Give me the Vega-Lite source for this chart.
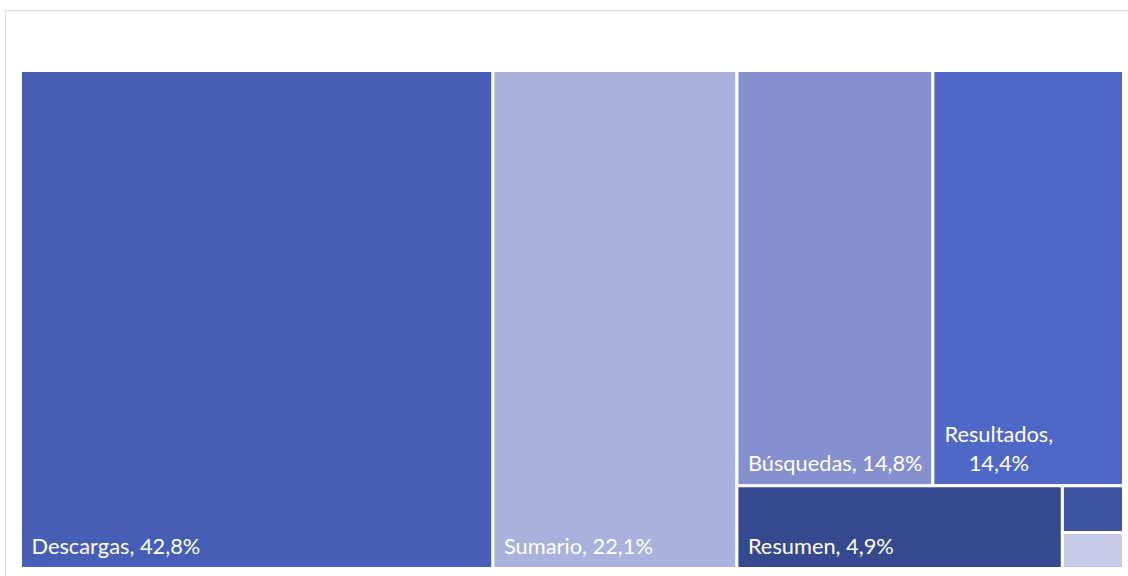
{
  "$schema": "https://vega.github.io/schema/vega-lite/v6.json",
  "width": 1123,
  "height": 566,
  "autosize": {"type": "none"},
  "padding": {"left": 5, "top": 10, "right": 0, "bottom": 0},
  "background": "#ffffff",
  "config": {"view": {"stroke": "#d9d9d9", "strokeWidth": 1}},
  "data": {
    "values": [
      {"name": "Descargas", "value": 42.8, "block": 1, "band": "all", "cell": "Descargas"},
      {"name": "Sumario", "value": 22.1, "block": 2, "band": "all", "cell": "Sumario"},
      {"name": "Búsquedas", "value": 14.8, "block": 3, "band": "top", "cell": "Búsquedas"},
      {"name": "Resultados", "value": 14.4, "block": 3, "band": "top", "cell": "Resultados"},
      {"name": "Resumen", "value": 4.9, "block": 3, "band": "bottom", "cell": "Resumen"},
      {"name": "Otros A", "value": 0.52, "block": 3, "band": "bottom", "cell": "Otros"},
      {"name": "Otros B", "value": 0.4, "block": 3, "band": "bottom", "cell": "Otros"}
    ]
  },
  "transform": [
    {"joinaggregate": [{"op": "sum", "field": "value", "as": "blockSum"}], "groupby": ["block"]},
    {"window": [{"op": "sum", "field": "value", "as": "blockEnd"}], "sort": [{"field": "block"}], "frame": [null, 0]},
    {"joinaggregate": [{"op": "sum", "field": "value", "as": "bandSum"}], "groupby": ["block", "band"]},
    {"window": [{"op": "sum", "field": "value", "as": "bandEnd"}], "groupby": ["block"], "sort": [{"field": "band"}], "frame": [null, 0]},
    {"joinaggregate": [{"op": "sum", "field": "value", "as": "cellSum"}], "groupby": ["block", "band", "cell"]},
    {"window": [{"op": "sum", "field": "value", "as": "cellEnd"}], "groupby": ["block", "band"], "sort": [{"field": "cellSum", "order": "descending"}], "frame": [null, 0]},
    {"window": [{"op": "sum", "field": "value", "as": "itemEnd"}], "groupby": ["block", "band", "cell"], "sort": [{"field": "value", "order": "descending"}], "frame": [null, 0]},
    {"joinaggregate": [{"op": "sum", "field": "value", "as": "total"}]},
    {"calculate": "(datum.blockEnd - datum.blockSum) * 100 / datum.total", "as": "bx0"},
    {"calculate": "datum.blockSum * 100 / datum.total", "as": "bw"},
    {"calculate": "datum.bandEnd / datum.blockSum", "as": "by1"},
    {"calculate": "(datum.bandEnd - datum.bandSum) / datum.blockSum", "as": "by0"},
    {"calculate": "datum.bx0 + (datum.cellEnd - datum.cellSum) / datum.bandSum * datum.bw", "as": "x0"},
    {"calculate": "datum.bx0 + datum.cellEnd / datum.bandSum * datum.bw", "as": "x1"},
    {"calculate": "datum.by1 - (datum.itemEnd - datum.value) / datum.cellSum * (datum.by1 - datum.by0)", "as": "y1"},
    {"calculate": "datum.by1 - datum.itemEnd / datum.cellSum * (datum.by1 - datum.by0)", "as": "y0"},
    {"calculate": "replace(format(datum.value, '.1f'), '.', ',') + '%'", "as": "pct"},
    {"calculate": "length(datum.name + ', ' + datum.pct) / (datum.x1 - datum.x0) > 0.94", "as": "wrap"}
  ],
  "encoding": {
    "x": {"field": "x0", "type": "quantitative", "scale": {"domain": [-1.4053, 100.408], "nice": false, "zero": false}, "axis": null},
    "y": {"field": "y1", "type": "quantitative", "scale": {"domain": [-0.01506, 1.12149], "nice": false, "zero": false}, "axis": null}
  },
  "layer": [
    {
      "mark": {"type": "rect", "stroke": "#ffffff", "strokeWidth": 3},
      "encoding": {
        "x2": {"field": "x1"},
        "y2": {"field": "y0"},
        "color": {
          "field": "name",
          "type": "nominal",
          "legend": null,
          "scale": {
            "domain": ["Descargas", "Sumario", "Búsquedas", "Resultados", "Resumen", "Otros A", "Otros B"],
            "range": ["#465EB6", "#AAB1DC", "#8690D0", "#4F68C8", "#36488E", "#3F53A3", "#C5CAE8"]
          }
        },
        "tooltip": [{"field": "name", "type": "nominal"}, {"field": "pct", "type": "nominal"}]
      }
    },
    {
      "transform": [{"filter": "datum.cellSum >= 2 && !datum.wrap"}, {"calculate": "datum.name + ', ' + datum.pct", "as": "label"}],
      "mark": {"type": "text", "align": "left", "baseline": "bottom", "dx": 11, "dy": -10, "font": "Lato", "fontSize": 21.8, "color": "#ffffff"},
      "encoding": {
        "y": {"field": "y0", "type": "quantitative"},
        "text": {"field": "label", "type": "nominal"}
      }
    },
    {
      "transform": [{"filter": "datum.cellSum >= 2 && datum.wrap"}, {"calculate": "datum.name + ',\\n' + datum.pct", "as": "label"}],
      "mark": {"type": "text", "align": "center", "baseline": "bottom", "lineBreak": "\n", "lineHeight": 28.5, "dx": 66, "dy": -38.5, "font": "Lato", "fontSize": 21.8, "color": "#ffffff"},
      "encoding": {
        "y": {"field": "y0", "type": "quantitative"},
        "text": {"field": "label", "type": "nominal"}
      }
    }
  ]
}
